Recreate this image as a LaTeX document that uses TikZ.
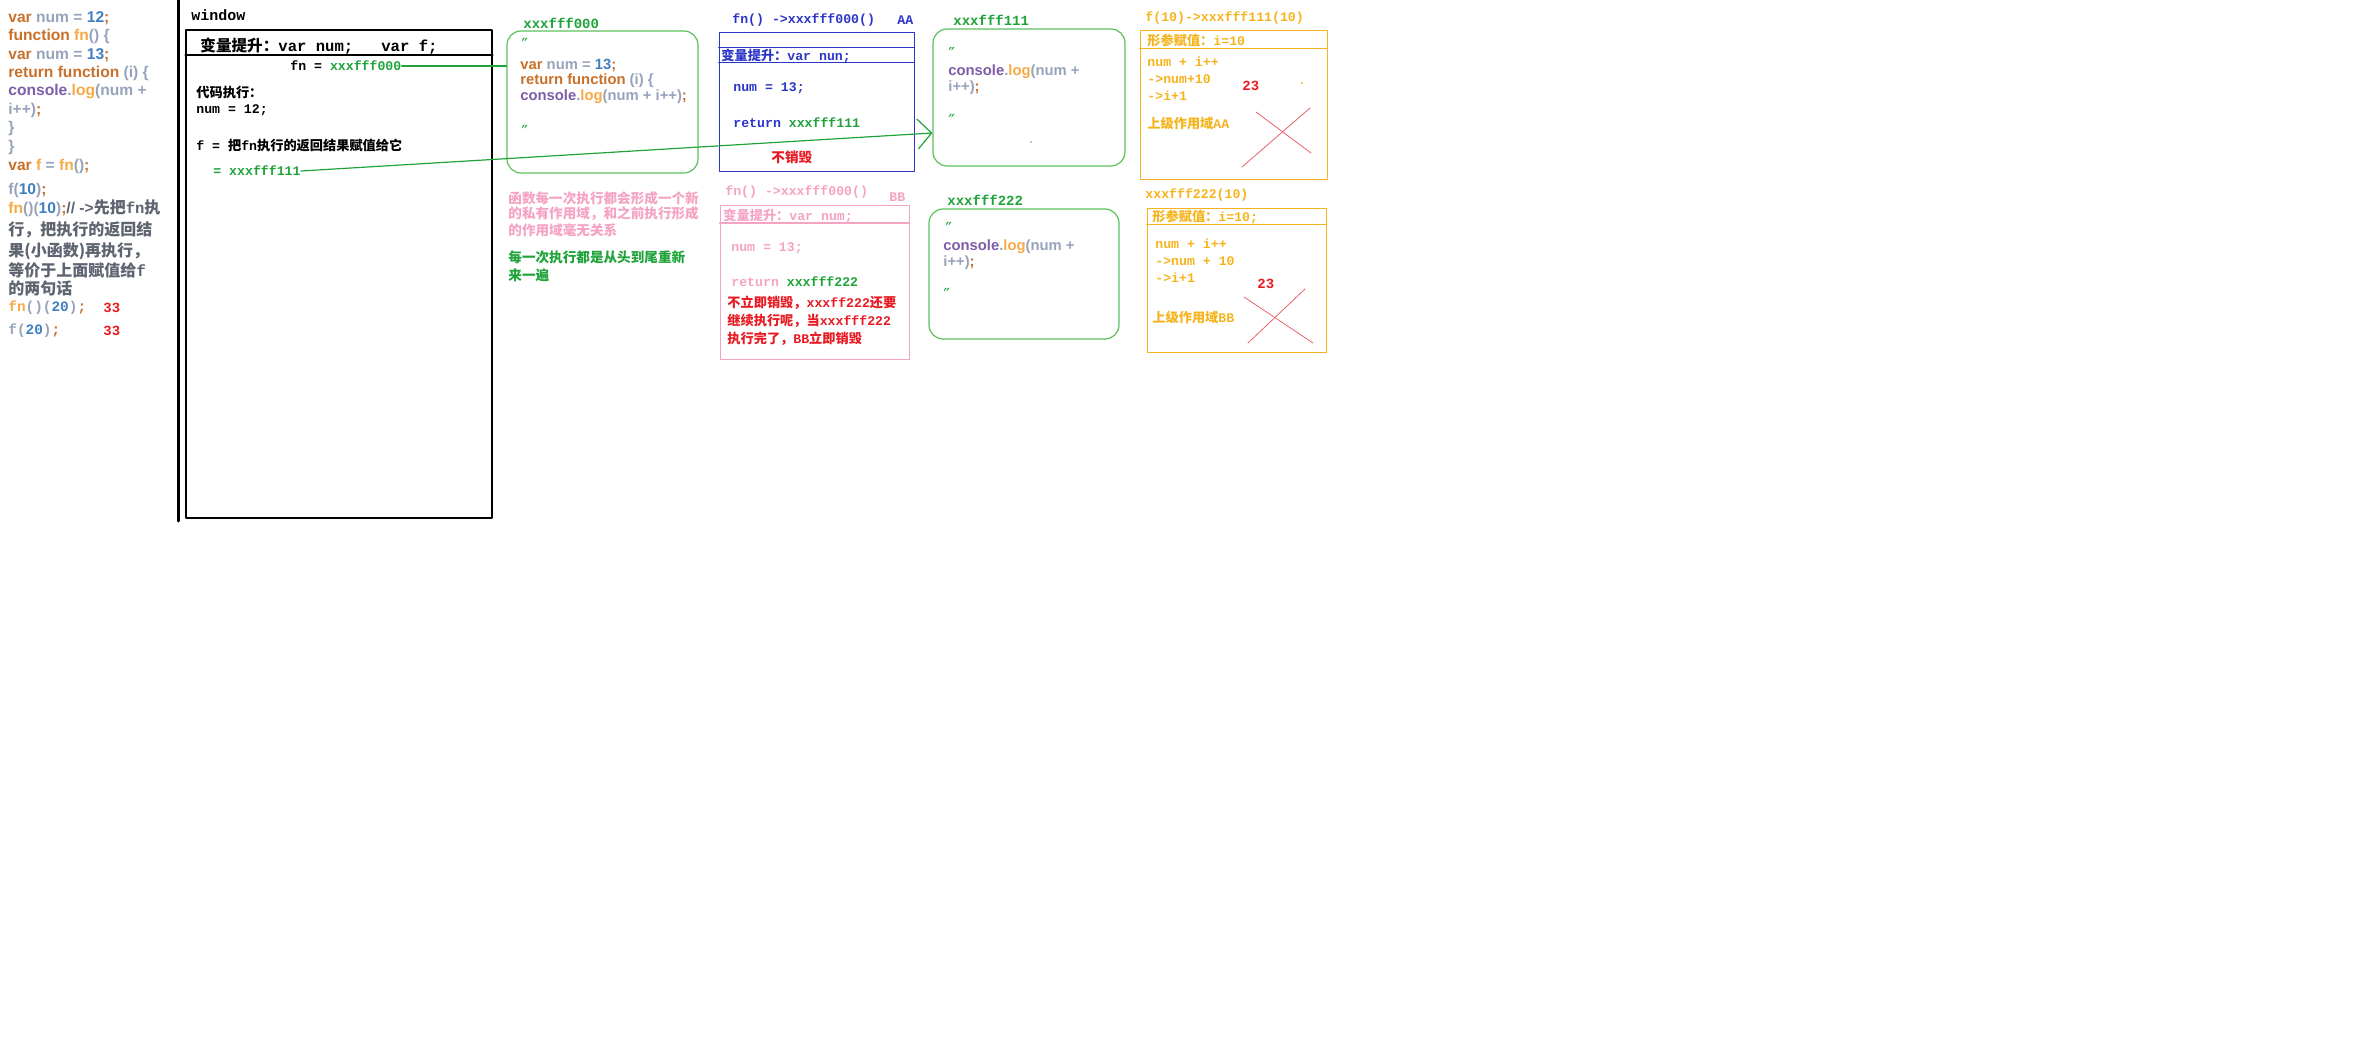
\documentclass[tikz,border=0pt]{standalone}
\usepackage{fontspec}
\setmainfont{Liberation Sans}
\setmonofont{Liberation Mono}
\newfontfamily\cjkfont{Noto Sans CJK SC}
\newfontfamily\symfont{DejaVu Sans}
\usetikzlibrary{arrows.meta}
\definecolor{kwbrown}{HTML}{C8702A}
\definecolor{idgrey}{HTML}{97A3BA}
\definecolor{numblue}{HTML}{3F7FBF}
\definecolor{fnorange}{HTML}{F6A945}
\definecolor{conpurple}{HTML}{7E5DA8}
\definecolor{cmtgrey}{HTML}{5E6470}
\definecolor{ptrgreen}{HTML}{1FA33A}
\definecolor{heapgreen}{HTML}{5CBF5C}
\definecolor{scopeblue}{HTML}{2B35C8}
\definecolor{scopepink}{HTML}{F5A3C3}
\definecolor{alertred}{HTML}{E81B23}
\definecolor{argyellow}{HTML}{F5B41E}
\definecolor{crossred}{HTML}{E8606A}
\newcommand\kw[1]{\textcolor{kwbrown}{#1}}
\newcommand\id[1]{\textcolor{idgrey}{#1}}
\newcommand\nm[1]{\textcolor{numblue}{#1}}
\newcommand\fnc[1]{\textcolor{fnorange}{#1}}
\newcommand\obj[1]{\textcolor{conpurple}{#1}}
\newcommand\zh[1]{{\cjkfont #1}}
\newcommand\cm[1]{{\fontsize{8}{10}\selectfont\cjkfont #1}}

\begin{document}
\begin{tikzpicture}[
  x=0.5pt,y=-0.5pt,
  line cap=round,line join=round,
  every node/.style={inner sep=0pt,anchor=west},
  code/.style={font=\fontsize{7.8}{9}\selectfont\bfseries},
  heapcode/.style={font=\fontsize{7.4}{9}\selectfont\bfseries},
  cmt/.style={font=\fontsize{8}{10}\selectfont\cjkfont\bfseries,text=cmtgrey},
  mono/.style={font=\fontsize{6.6}{8}\selectfont\ttfamily\bfseries},
  tag/.style={font=\fontsize{7}{8}\selectfont\ttfamily\bfseries},
  note/.style={font=\fontsize{6.8}{8}\selectfont\cjkfont\bfseries},
  ditto/.style={font=\fontsize{9}{9}\selectfont\symfont,text=ptrgreen},
  heapbox/.style={draw=heapgreen,line width=0.6pt,rounded corners=7pt,anchor=center},
  scopebox/.style={line width=0.5pt,anchor=center},
  ptrline/.style={draw=ptrgreen,line width=0.6pt},
  crossline/.style={draw=crossred,line width=0.4pt},
  >={Straight Barb[length=7pt,width=15pt]}
]
\useasboundingbox (0,0) rectangle (2374,1054);

% source code on the left
\node[code] (c1) at (8,18) {\kw{var} \id{num =} \nm{12}\kw{;}};
\node[code] (c2) at (8,36) {\kw{function} \fnc{fn}\id{() \{}};
\node[code] (c3) at (8,55) {\kw{var} \id{num =} \nm{13}\kw{;}};
\node[code] (c4) at (8,73) {\kw{return function} \id{(i) \{}};
\node[code] (c5) at (8,92) {\obj{console}\id{.}\fnc{log}\id{(num +}};
\node[code] (c6) at (8,110) {\id{i++)}\kw{;}};
\node[code] (c7) at (8,128) {\id{\}}};
\node[code] (c8) at (8,147) {\id{\}}};
\node[code] (c9) at (8,166) {\kw{var} \fnc{f} \id{=} \fnc{fn}\id{()}\kw{;}};
\node[code] (c10) at (8,190) {\id{f(}\nm{10}\id{)}\kw{;}};
\node[code] (c11) at (8,208) {\fnc{fn}\id{()(}\nm{10}\id{)}\kw{;}\textcolor{cmtgrey}{// ->\cm{先把}{\ttfamily fn}\cm{执}}};
\node[cmt] (c12) at (8,230) {行，把执行的返回结};
\node[cmt] (c13) at (8,251) {果(小函数)再执行，};
\node[cmt] (c14) at (8,270) {等价于上面赋值给{\ttfamily f}};
\node[cmt] (c15) at (8,288) {的两句话};
\node[code,font=\fontsize{7.2}{9}\selectfont\ttfamily\bfseries] (c16) at (8,308) {\fnc{fn}\id{()(}\nm{20}\id{)}\kw{;}};
\node[code,font=\fontsize{7.2}{9}\selectfont\ttfamily\bfseries] (c17) at (8,331) {\id{f(}\nm{20}\id{)}\kw{;}};
\node[tag,text=alertred] (out1) at (103,308) {33};
\node[tag,text=alertred] (out2) at (103,331) {33};
\draw[line width=1.5pt] (178,0) -- (178,521);

% global scope: window
\node[font=\fontsize{7.5}{9}\selectfont\ttfamily\bfseries] (wlabel) at (191,15) {window};
\node[draw,line width=0.8pt,anchor=center,minimum width=153pt,minimum height=244pt] (win) at (339,274) {};
\draw[line width=0.8pt] (win.west |- 0,55) -- (win.east |- 0,55);
\node[font=\fontsize{7.8}{9}\selectfont\ttfamily\bfseries] (whoist) at (200,46) {\zh{变量提升：}var num;\ \ \ var f;};
\node[mono] (ptr0) at (290,66) {fn = \textcolor{ptrgreen}{xxxfff000}};
\node[mono] (wexec) at (196,93) {\zh{代码执行：}};
\node[mono] (wnum) at (196,110) {num = 12;};
\node[mono] (wf) at (196,145) {f = \zh{把}fn\zh{执行的返回结果赋值给它}};
\node[mono,text=ptrgreen] (ptr1) at (213,171) {= xxxfff111};

% heap xxxfff000
\node[tag,text=ptrgreen] (h0label) at (523,23) {xxxfff000};
\node[heapbox,minimum width=95.5pt,minimum height=71pt] (heap0) at (602.5,102) {};
\node[ditto] (h0q1) at (521,45) {″};
\node[heapcode] (h0l1) at (520,65) {\kw{var} \id{num =} \nm{13}\kw{;}};
\node[heapcode] (h0l2) at (520,81) {\kw{return function} \id{(i) \{}};
\node[heapcode] (h0l3) at (520,97) {\obj{console}\id{.}\fnc{log}\id{(num + i++)}\kw{;}};
\node[ditto] (h0q2) at (521,132) {″};

% remarks
\node[note,text=scopepink] (n1) at (508,198) {函数每一次执行都会形成一个新};
\node[note,text=scopepink] (n2) at (508,214) {的私有作用域，和之前执行形成};
\node[note,text=scopepink] (n3) at (508,230) {的作用域毫无关系};
\node[note,text=ptrgreen] (n4) at (508,257) {每一次执行都是从头到尾重新};
\node[note,text=ptrgreen] (n5) at (508,275) {来一遍};

% private scope AA
\node[mono,text=scopeblue] (aalabel) at (732,20) {fn() ->xxxfff000()};
\node[mono,text=scopeblue] (aatag) at (897,20) {AA};
\node[scopebox,draw=scopeblue,minimum width=97.5pt,minimum height=69.5pt] (scopeAA) at (816.5,102.5) {};
\draw[scopeblue,line width=0.5pt] (scopeAA.west |- 0,48) -- (scopeAA.east |- 0,48);
\draw[scopeblue,line width=0.5pt] (scopeAA.west |- 0,63) -- (scopeAA.east |- 0,63);
\node[mono,text=scopeblue] (aa1) at (721,56) {\zh{变量提升：}var nun;};
\node[mono,text=scopeblue] (aa2) at (733,88) {num = 13;};
\node[mono,text=scopeblue] (aa3) at (733,123) {return \textcolor{ptrgreen}{xxxfff111}};
\node[note,text=alertred] (aa4) at (771,157) {不销毁};

% private scope BB
\node[mono,text=scopepink] (bblabel) at (725,192) {fn() ->xxxfff000()};
\node[mono,text=scopepink] (bbtag) at (889,197) {BB};
\node[scopebox,draw=scopepink,minimum width=94.5pt,minimum height=76.5pt] (scopeBB) at (814.5,282.5) {};
\draw[scopepink,line width=0.5pt] (scopeBB.west |- 0,223) -- (scopeBB.east |- 0,223);
\node[mono,text=scopepink] (bb1) at (723,216) {\zh{变量提升：}var num;};
\node[mono,text=scopepink] (bb2) at (731,248) {num = 13;};
\node[mono,text=scopepink] (bb3) at (731,282) {return \textcolor{ptrgreen}{xxxfff222}};
\node[mono,text=alertred] (bb4) at (727,303) {\zh{不立即销毁，}xxxff222\zh{还要}};
\node[mono,text=alertred] (bb5) at (727,321) {\zh{继续执行呢，当}xxxfff222};
\node[mono,text=alertred] (bb6) at (727,339) {\zh{执行完了，}BB\zh{立即销毁}};

% heap xxxfff111
\node[tag,text=ptrgreen] (h1label) at (953,20) {xxxfff111};
\node[heapbox,minimum width=96pt,minimum height=68.5pt] (heap1) at (1029,97.5) {};
\node[ditto] (h1q1) at (948,54) {″};
\node[heapcode] (h1l1) at (948,72) {\obj{console}\id{.}\fnc{log}\id{(num +}};
\node[heapcode] (h1l2) at (948,88) {\id{i++)}\kw{;}};
\node[ditto] (h1q2) at (948,121) {″};
\fill[idgrey] (1031,142) circle (0.5pt);

% heap xxxfff222
\node[tag,text=ptrgreen] (h2label) at (947,200) {xxxfff222};
\node[heapbox,minimum width=95pt,minimum height=65pt] (heap2) at (1024,274) {};
\node[ditto] (h2q1) at (945,229) {″};
\node[heapcode] (h2l1) at (943,247) {\obj{console}\id{.}\fnc{log}\id{(num +}};
\node[heapcode] (h2l2) at (943,263) {\id{i++)}\kw{;}};
\node[ditto] (h2q2) at (943,295) {″};

% call f(10)
\node[mono,text=argyellow] (ylabel) at (1145,18) {f(10)->xxxfff111(10)};
\node[scopebox,draw=argyellow,minimum width=93.5pt,minimum height=74.5pt] (callA) at (1233.5,105.5) {};
\draw[argyellow,line width=0.5pt] (callA.west |- 0,49) -- (callA.east |- 0,49);
\node[mono,text=argyellow] (ya1) at (1147,40) {\zh{形参赋值：}i=10};
\node[mono,text=argyellow] (ya2) at (1147,62) {num + i++};
\node[mono,text=argyellow] (ya3) at (1147,79) {->num+10};
\node[mono,text=argyellow] (ya4) at (1147,96) {->i+1};
\node[mono,text=argyellow] (ya5) at (1147,123) {\zh{上级作用域}AA};
\node[tag,text=alertred] (ya6) at (1242,86) {23};
\fill[argyellow] (1302,83) circle (0.6pt);
\draw[crossline] (1242,167) -- (1310,108);
\draw[crossline] (1256,112) -- (1311,153);

% call xxxfff222(10)
\node[mono,text=argyellow] (zlabel) at (1145,195) {xxxfff222(10)};
\node[scopebox,draw=argyellow,minimum width=89.5pt,minimum height=71.5pt] (callB) at (1236.5,280.5) {};
\draw[argyellow,line width=0.5pt] (callB.west |- 0,224) -- (callB.east |- 0,224);
\node[mono,text=argyellow] (yb1) at (1152,217) {\zh{形参赋值：}i=10;};
\node[mono,text=argyellow] (yb2) at (1155,244) {num + i++};
\node[mono,text=argyellow] (yb3) at (1155,261) {->num + 10};
\node[mono,text=argyellow] (yb4) at (1155,278) {->i+1};
\node[mono,text=argyellow] (yb5) at (1152,317) {\zh{上级作用域}BB};
\node[tag,text=alertred] (yb6) at (1257,284) {23};
\draw[crossline] (1244,297) -- (1313,343);
\draw[crossline] (1248,343) -- (1305,289);

% pointers
\draw[ptrline] (ptr0.east) -- (ptr0.east -| heap0.west);
\draw[ptrline,->] (ptr1.east) -- (heap1.west |- 0,133);

\end{tikzpicture}
\end{document}
